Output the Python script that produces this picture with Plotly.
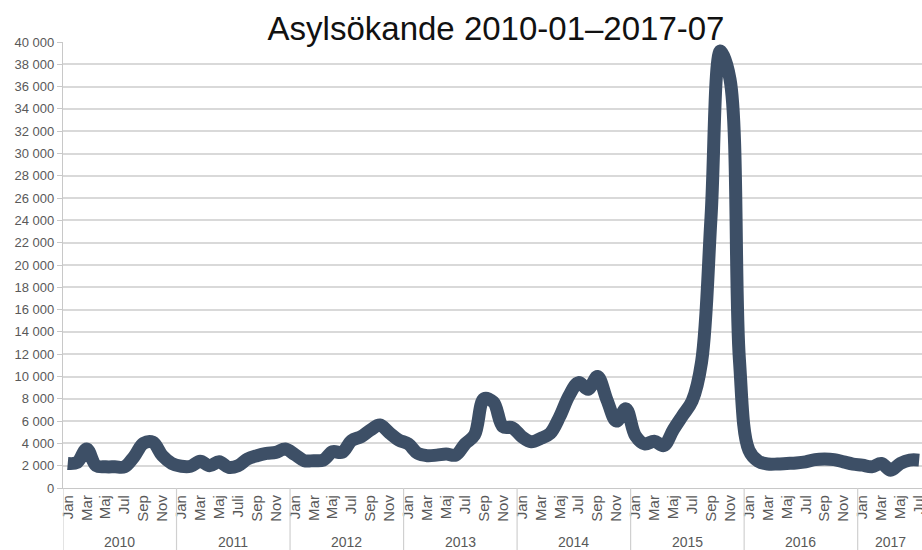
import plotly.graph_objects as go

# ---- data ----
years = [2010, 2011, 2012, 2013, 2014, 2015, 2016, 2017]
asyl_2010 = [2200, 2300, 3500, 2000, 1900, 1900, 1900, 2800, 4000, 4100, 2900, 2200]
asyl_2011 = [1950, 1950, 2400, 2000, 2350, 1850, 2000, 2600, 2900, 3100, 3200, 3500]
asyl_2012 = [3000, 2450, 2450, 2500, 3250, 3200, 4250, 4600, 5200, 5650, 4950, 4300]
asyl_2013 = [3950, 3100, 2900, 2950, 3050, 2950, 3950, 4750, 8000, 7700, 5500, 5400]
asyl_2014 = [4600, 4150, 4450, 4900, 6400, 8300, 9450, 8850, 10000, 7900, 6000, 7100]
asyl_2015 = [4700, 3950, 4200, 3800, 5200, 6500, 7800, 11300, 24300, 39200, 36700, 11500]
asyl_2016 = [3400, 2400, 2150, 2150, 2200, 2250, 2350, 2550, 2600, 2550, 2350, 2150]
asyl_2017 = [2050, 1900, 2200, 1600, 2200, 2500, 2500]

month_ticks = ["Jan", "Mar", "Maj", "Jul", "Sep", "Nov"]
month_ticks_2011 = ["Jan", "Mar", "Maj", "Juli", "Sep", "Nov"]
month_ticks_2017 = ["Jan", "Mar", "Maj", "Jul"]

y_ticks = [0, 2000, 4000, 6000, 8000, 10000, 12000, 14000, 16000, 18000, 20000,
           22000, 24000, 26000, 28000, 30000, 32000, 34000, 36000, 38000, 40000]

title_text = "Asylsökande 2010-01–2017-07"

# ---- build series ----
yearly = [asyl_2010, asyl_2011, asyl_2012, asyl_2013, asyl_2014, asyl_2015, asyl_2016, asyl_2017]
cats, vals = [], []
for yr, vs in zip(years, yearly):
    for m, v in enumerate(vs):
        cats.append(f"{yr}-{m + 1:02d}")
        vals.append(v)

tickvals, ticktext = [], []
for yr, vs in zip(years, yearly):
    labels = month_ticks_2011 if yr == 2011 else (month_ticks_2017 if yr == 2017 else month_ticks)
    for k, lab in enumerate(labels):
        tickvals.append(f"{yr}-{2 * k + 1:02d}")
        ticktext.append(lab)

fig = go.Figure()
fig.add_trace(go.Scatter(
    x=cats, y=vals, mode="lines",
    line=dict(color="#3d4f66", width=13, shape="spline", smoothing=1.0),
    hoverinfo="skip", showlegend=False,
))

grey = "#595959"
fontfam = "Liberation Sans, Arial, sans-serif"

plot_h = 550 - 42 - 62
bottom_frac = -62 / plot_h

shapes = []
annotations = []
start = 0
for yr, vs in zip(years, yearly):
    shapes.append(dict(type="line", xref="x", yref="paper",
                       x0=start - 0.5, x1=start - 0.5, y0=0, y1=bottom_frac,
                       line=dict(color="#d0d0d0", width=1.2)))
    center = start + (len(vs) - 1) / 2
    annotations.append(dict(x=center, y=-54 / plot_h, xref="x", yref="paper",
                            text=str(yr), showarrow=False, yanchor="middle",
                            font=dict(family=fontfam, size=14, color=grey)))
    start += len(vs)

fig.update_layout(
    width=922, height=550,
    margin=dict(l=63, r=0, t=42, b=62),
    paper_bgcolor="white", plot_bgcolor="white",
    title=dict(text=title_text, x=0.538, y=1 - 28 / 550, xanchor="center", yanchor="middle",
               font=dict(family=fontfam, size=33, color="#111111")),
    shapes=shapes, annotations=annotations,
)
fig.update_xaxes(
    type="category", categoryorder="array", categoryarray=cats,
    range=[-0.5, 90.3], showgrid=False, zeroline=False, automargin=False,
    showline=True, linecolor="#c8c8c8", linewidth=1.2,
    tickmode="array", tickvals=tickvals, ticktext=ticktext, tickangle=-90,
    ticks="", tickfont=dict(family=fontfam, size=15, color=grey),
)
fig.update_yaxes(
    range=[0, 40000], tickmode="array", tickvals=y_ticks,
    ticktext=[f"{v:,}".replace(",", " ") for v in y_ticks],
    showgrid=True, gridcolor="#d9d9d9", gridwidth=1.5, zeroline=False, automargin=False,
    showline=True, linecolor="#c8c8c8", linewidth=1.2,
    ticks="outside", ticklen=5, tickcolor="#c8c8c8",
    tickfont=dict(family=fontfam, size=13, color=grey),
)

fig.write_html(
    "out.html",
    config={"displayModeBar": False},
    post_script="document.body.style.margin='0';document.body.style.overflow='hidden';",
)
